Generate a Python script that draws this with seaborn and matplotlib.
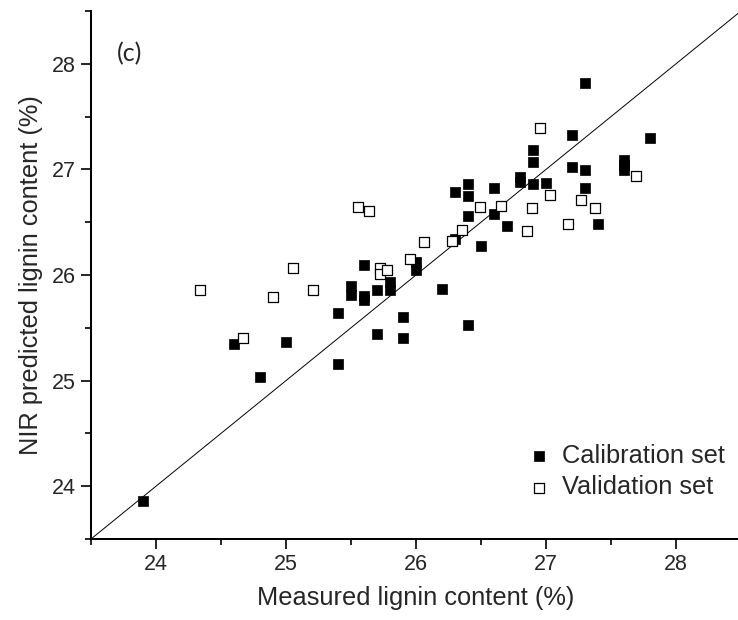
import matplotlib
matplotlib.use("Agg")
import matplotlib.pyplot as plt
import seaborn as sns
import pandas as pd
from matplotlib.ticker import MultipleLocator

cal_measured = [23.9, 24.6, 24.8, 25.0, 25.4, 25.4, 25.5, 25.5, 25.6, 25.6, 25.6,
                25.7, 25.7, 25.8, 25.8, 25.9, 25.9, 26.0, 26.0, 26.2, 26.3, 26.3,
                26.4, 26.4, 26.4, 26.4, 26.5, 26.6, 26.6, 26.7, 26.8, 26.8, 26.9,
                26.9, 26.9, 27.0, 27.2, 27.2, 27.3, 27.3, 27.3, 27.4, 27.6, 27.6,
                27.6, 27.8]
cal_predicted = [23.86, 25.35, 25.03, 25.37, 25.64, 25.16, 25.90, 25.81, 26.09, 25.80, 25.76,
                 25.86, 25.44, 25.93, 25.86, 25.60, 25.40, 26.12, 26.05, 25.87, 26.79, 26.34,
                 26.86, 26.75, 26.56, 25.53, 26.27, 26.82, 26.58, 26.46, 26.93, 26.88, 27.18,
                 27.07, 26.86, 26.87, 27.33, 27.02, 27.82, 26.99, 26.82, 26.48, 27.09, 27.04,
                 26.99, 27.30]

val_measured = [24.34, 24.67, 24.90, 25.05, 25.21, 25.55, 25.64, 25.72, 25.72, 25.78,
                25.95, 26.06, 26.28, 26.35, 26.49, 26.65, 26.85, 26.89, 26.95, 27.03,
                27.17, 27.27, 27.38, 27.69]
val_predicted = [25.86, 25.40, 25.79, 26.07, 25.86, 26.64, 26.61, 26.07, 26.01, 26.05,
                 26.15, 26.31, 26.32, 26.43, 26.64, 26.65, 26.42, 26.63, 27.39, 26.76,
                 26.48, 26.71, 26.63, 26.94]

axis_limits = [23.5, 28.5]
major_ticks = [24, 25, 26, 27, 28]

sns.set_style("ticks")
plt.rcParams['font.family'] = ['Liberation Sans', 'DejaVu Sans']

cal = pd.DataFrame({"measured": cal_measured, "predicted": cal_predicted})
val = pd.DataFrame({"measured": val_measured, "predicted": val_predicted})

fig = plt.figure(figsize=(7.38, 6.2), dpi=100)
ax = fig.add_axes([91/738, 81/620, 650/738, 528/620])

ax.plot(axis_limits, axis_limits, color="black", lw=0.7, zorder=1)

sns.scatterplot(data=cal, x="measured", y="predicted", ax=ax, marker="s", s=52,
                color="black", edgecolor="black", linewidth=0.5,
                label="Calibration set", zorder=3)
sns.scatterplot(data=val, x="measured", y="predicted", ax=ax, marker="s", s=46,
                facecolor="white", edgecolor="black", linewidth=0.9,
                label="Validation set", zorder=4)

ax.set_xlim(*axis_limits)
ax.set_ylim(*axis_limits)
ax.set_xticks(major_ticks)
ax.set_yticks(major_ticks)
ax.xaxis.set_minor_locator(MultipleLocator(0.5))
ax.yaxis.set_minor_locator(MultipleLocator(0.5))
ax.tick_params(which="major", direction="out", length=7.5, width=1.2, labelsize=15.5, color="black")
ax.tick_params(which="minor", direction="out", length=4.3, width=1.2, color="black")
for side in ["top", "right"]:
    ax.spines[side].set_visible(False)
for side in ["left", "bottom"]:
    ax.spines[side].set_linewidth(1.45)
    ax.spines[side].set_color("black")

ax.set_xlabel("Measured lignin content (%)", fontsize=18.3, labelpad=8)
ax.set_ylabel("NIR predicted lignin content (%)", fontsize=18.3, labelpad=6)

ax.text(23.7, 28.1, "(c)", fontsize=18, family=["Lato", "DejaVu Sans"], va="center", ha="left")

leg = ax.legend(loc="center left", bbox_to_anchor=(516/738, 1 - 471.5/620),
                bbox_transform=fig.transFigure, frameon=False, borderpad=0,
                fontsize=18.3, handlelength=0.8, handletextpad=0.5, labelspacing=0.3)

fig.savefig("out.png", dpi=100)
